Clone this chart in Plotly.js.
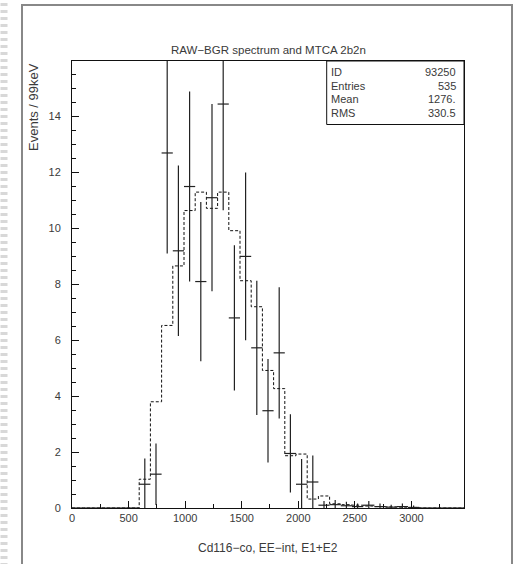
<!DOCTYPE html>
<html>
<head>
<meta charset="utf-8">
<script src="https://cdn.plot.ly/plotly-3.0.1.min.js"></script>
<style>
  html, body { margin: 0; padding: 0; background: #fff; }
  #chart { width: 516px; height: 564px; }
</style>
</head>
<body>
<div id="chart"></div>
<script>
// ---- data (bins of 99 keV) ----
const binLow = [0, 99, 198, 297, 396, 495, 594, 693, 792, 891, 990, 1089, 1188, 1287, 1386, 1485, 1584, 1683, 1782, 1881, 1980, 2079, 2178, 2277, 2376, 2475, 2574, 2673, 2772, 2871, 2970, 3069, 3168, 3267, 3366];
const binWidth = 99;

// RAW-BGR spectrum (points with errors)
const dataVals = [0, 0, 0, 0, 0, 0, 0.85, 1.21, 12.7, 9.2, 11.5, 8.1, 11.1, 14.45, 6.8, 9.0, 5.73, 3.48, 5.55, 1.95, 0.85, 0.93, 0.1, 0.12, 0.08, 0.05, 0.1, 0.05, 0.03, 0.05, 0.02, 0, 0, 0, 0];
const dataErrs = [0, 0, 0, 0, 0, 0, 0.92, 1.1, 3.6, 3.05, 3.4, 2.85, 3.35, 3.8, 2.6, 3.0, 2.4, 1.85, 2.35, 1.4, 0.9, 0.95, 0.15, 0.17, 0.14, 0.11, 0.15, 0.11, 0.09, 0.11, 0.07, 0, 0, 0, 0];

// MTCA 2b2n model (dashed histogram)
const mcVals = [0, 0, 0, 0, 0, 0, 1.03, 3.8, 6.53, 8.66, 10.64, 11.3, 10.72, 11.3, 9.92, 8.13, 7.2, 4.92, 4.27, 1.87, 1.93, 0.32, 0.43, 0.15, 0.12, 0.1, 0.07, 0.05, 0.04, 0.03, 0.02, 0, 0, 0, 0];

// stats box
const statLabels = ["ID", "Entries", "Mean", "RMS"];
const statValues = ["93250", "535", "1276.", "330.5"];

const titleText = "RAW\u2212BGR spectrum and MTCA 2b2n";
const xTitle = "Cd116\u2212co, EE\u2212int, E1+E2";
const yTitle = "Events / 99keV";

// ---- derived ----
const centers = binLow.map(v => v + binWidth / 2);
const halfW = binLow.map(() => binWidth / 2);
const stepX = binLow.concat([binLow[binLow.length - 1] + binWidth]);
const stepY = mcVals.concat([mcVals[mcVals.length - 1]]);

const W = 516, H = 564;
const M = {l: 72, r: 52, t: 61, b: 56};
const PW = W - M.l - M.r, PH = H - M.t - M.b;
const px = x => (x - M.l) / PW;          // pixel -> paper x
const py = y => (H - M.b - y) / PH;      // pixel -> paper y

const FONT = "Liberation Sans, Arial, sans-serif";
const TXT = "#3a3a3a";

const traces = [
  {
    x: stepX, y: stepY, type: "scatter", mode: "lines",
    line: {shape: "hv", color: "#111", width: 1, dash: "3px,2px"},
    hoverinfo: "skip", showlegend: false
  },
  {
    x: centers, y: dataVals, type: "scatter", mode: "markers",
    marker: {size: 1, color: "rgba(0,0,0,0)"},
    error_y: {type: "data", array: dataErrs, symmetric: true, color: "#222", thickness: 1.2, width: 0},
    error_x: {type: "data", array: halfW, symmetric: true, color: "#222", thickness: 1.2, width: 0},
    showlegend: false
  }
];

const annotations = [
  {text: titleText, xref: "paper", yref: "paper", x: 0.5, y: py(50), xanchor: "center", yanchor: "middle",
   showarrow: false, font: {family: FONT, size: 11.5, color: TXT}},
  {text: xTitle, xref: "paper", yref: "paper", x: 0.5, y: py(548), xanchor: "center", yanchor: "middle",
   showarrow: false, font: {family: FONT, size: 12, color: TXT}},
  {text: yTitle, xref: "paper", yref: "paper", x: px(33), y: 1, xanchor: "center", yanchor: "top",
   textangle: -90, showarrow: false, font: {family: FONT, size: 13, color: TXT}}
];
const rowsY = [71.7, 85.5, 99.3, 113];
statLabels.forEach((s, i) => {
  annotations.push({text: s, xref: "paper", yref: "paper", x: px(329), y: py(rowsY[i]), xanchor: "left", yanchor: "middle",
    showarrow: false, font: {family: FONT, size: 11, color: TXT}});
  annotations.push({text: statValues[i], xref: "paper", yref: "paper", x: px(458), y: py(rowsY[i]), xanchor: "right", yanchor: "middle",
    showarrow: false, font: {family: FONT, size: 11, color: TXT}});
});

const shapes = [
  // outer page frame
  {type: "rect", xref: "paper", yref: "paper", x0: px(22), x1: px(512), y0: py(568), y1: py(5),
   line: {color: "#888", width: 2}, fillcolor: "rgba(0,0,0,0)", layer: "below"},
  // left dashed stripe
  {type: "line", xref: "paper", yref: "paper", x0: px(4), x1: px(4), y0: py(566), y1: py(-2),
   line: {color: "#d8d8d8", width: 7, dash: "3px,4px"}},
  // stats box
  {type: "rect", xref: "paper", yref: "paper", x0: px(326.7), x1: 1, y0: py(124.5), y1: 1,
   line: {color: "#111", width: 1}, fillcolor: "#fff", layer: "above"}
];

const layout = {
  width: W, height: H,
  margin: M,
  paper_bgcolor: "#fff", plot_bgcolor: "#fff",
  showlegend: false,
  font: {family: FONT, size: 11, color: TXT},
  xaxis: {
    range: [0, 3465], showgrid: false, zeroline: false,
    showline: true, mirror: true, linecolor: "#111", linewidth: 1,
    ticks: "inside", ticklen: 7, tickcolor: "#111", dtick: 500, tick0: 0,
    minor: {dtick: 250, ticks: "inside", ticklen: 4, tickcolor: "#111", showgrid: false},
    tickfont: {family: FONT, size: 11, color: TXT}
  },
  yaxis: {
    range: [0, 15.99], showgrid: false, zeroline: false,
    showline: true, mirror: true, linecolor: "#111", linewidth: 1,
    ticks: "inside", ticklen: 7, tickcolor: "#111", dtick: 2, tick0: 0,
    minor: {dtick: 0.5, ticks: "inside", ticklen: 4, tickcolor: "#111", showgrid: false},
    tickfont: {family: FONT, size: 11, color: TXT},
    ticklabelstandoff: 8
  },
  annotations: annotations,
  shapes: shapes
};

Plotly.newPlot("chart", traces, layout, {staticPlot: true, displayModeBar: false});
</script>
</body>
</html>
